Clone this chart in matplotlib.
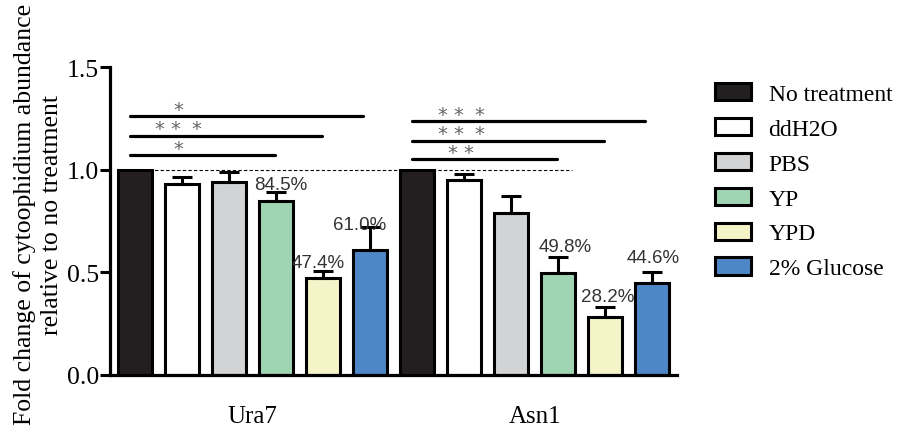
import matplotlib
matplotlib.use("Agg")
import matplotlib.pyplot as plt
import numpy as np
from matplotlib.patches import Patch

# Datos
categorias = ['No treatment', 'ddH2O', 'PBS', 'YP', 'YPD', '2% Glucose']
colores = ['#231f20', '#ffffff', '#d2d3d5', '#a0d5b3', '#f4f4c8', '#4e87c6']
genes = ['Ura7', 'Asn1']
ura7_media = [1.0, 0.93, 0.94, 0.845, 0.474, 0.61]
ura7_error = [0.0, 0.035, 0.05, 0.045, 0.03, 0.11]
asn1_media = [1.0, 0.95, 0.79, 0.498, 0.282, 0.446]
asn1_error = [0.0, 0.03, 0.08, 0.075, 0.05, 0.055]
ura7_pct = ['', '', '', '84.5%', '47.4%', '61.0%']
asn1_pct = ['', '', '', '49.8%', '28.2%', '44.6%']
# (desde, hasta, numero de estrellas) dentro de cada grupo
ura7_sig = [(0, 3, 1), (0, 4, 3), (0, 5, 1)]
asn1_sig = [(0, 3, 2), (0, 4, 3), (0, 5, 3)]

serif = 'Liberation Serif'
sans = 'Liberation Sans'

fig = plt.figure(figsize=(9.09, 4.31), dpi=100)
ax = fig.add_axes([0.121, 0.128, 0.624, 0.714])

n = len(categorias)
medias = [ura7_media, asn1_media]
errores = [ura7_error, asn1_error]
pcts = [ura7_pct, asn1_pct]
sigs = [ura7_sig, asn1_sig]

# linea punteada en 1.0
ax.plot([0.3, 9.3], [1.0, 1.0], ls=(0, (3, 2)), color='black', lw=0.8, zorder=1)

# offsets de etiquetas (x, y)
pct_off = [[(0, 0), (0, 0), (0, 0), (0.1, 0.016), (-0.1, 0.02), (-0.23, -0.01)],
           [(0, 0), (0, 0), (0, 0), (0.15, 0.03), (0.05, 0.03), (0.02, 0.05)]]
sig_y = [[1.07, 1.165, 1.26], [1.05, 1.14, 1.235]]

for g in range(2):
    x = np.arange(n) + g * n
    for i in range(n):
        err = errores[g][i]
        ax.bar(x[i], medias[g][i], width=0.72, color=colores[i], edgecolor='black',
               linewidth=2.2, zorder=2)
        if err > 0:
            ax.errorbar(x[i], medias[g][i], yerr=[[0], [err]], fmt='none', ecolor='black',
                        elinewidth=2.2, capsize=7, capthick=2.2, zorder=3)
        if pcts[g][i]:
            dx, dy = pct_off[g][i]
            ax.text(x[i] + dx, medias[g][i] + err + dy, pcts[g][i], ha='center', va='baseline',
                    fontsize=13.5, family=sans, color='#333333', zorder=4)
    for k, (a, b, nst) in enumerate(sigs[g]):
        y = sig_y[g][k]
        fin = x[b] - (0.15 if k == 2 else 0.03)
        ax.plot([x[a] - 0.1, fin], [y, y], color='black', lw=2.3, solid_capstyle='round', zorder=4)
        estrellas = r'$' + r'\,'.join(['*'] * nst) + r'$'
        ax.text(x[a] + 0.93, y + 0.018, estrellas, ha='center', va='baseline', fontsize=14,
                color='#666666')

ax.set_xlim(-0.53, 11.53)
ax.set_ylim(0, 1.5)
ax.set_yticks([0, 0.5, 1.0, 1.5])
ax.set_yticklabels(['0.0', '0.5', '1.0', '1.5'], family=serif, fontsize=18.5)
ax.set_xticks([2.5, 8.5])
ax.set_xticklabels(genes, family=serif, fontsize=18)
ax.tick_params(axis='x', length=0, pad=22)
ax.tick_params(axis='y', length=7, width=2.2, pad=1)
for s in ['top', 'right']:
    ax.spines[s].set_visible(False)
for s in ['left', 'bottom']:
    ax.spines[s].set_linewidth(2.3)

ax.set_ylabel('Fold change of cytoophidium abundance\nrelative to no treatment',
              family=serif, fontsize=18.5, linespacing=1.3)
ax.yaxis.set_label_coords(-0.083, 0.523)

handles = [Patch(facecolor=c, edgecolor='black', linewidth=2.2) for c in colores]
fig.legend(handles, categorias, loc='upper left', bbox_to_anchor=(0.787, 0.805),
           frameon=False, prop={'family': serif, 'size': 17}, handlelength=1.5,
           handleheight=0.75, labelspacing=0.55, handletextpad=0.75,
           borderpad=0, borderaxespad=0)

fig.savefig('out.png', dpi=100)
